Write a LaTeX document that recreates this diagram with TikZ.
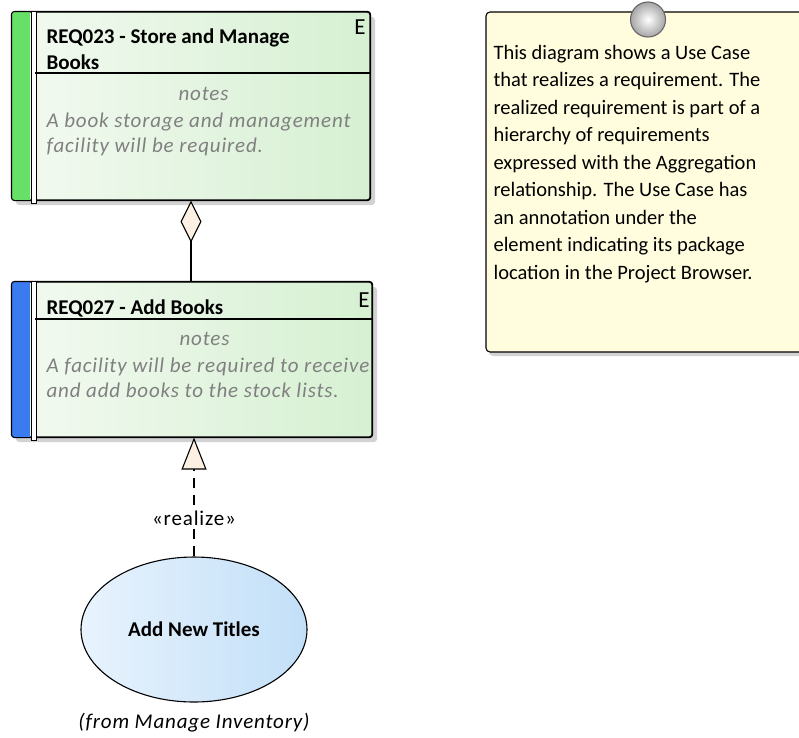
\documentclass[tikz,border=0pt]{standalone}
\usepackage{fontspec}
\setmainfont{Carlito}
\newfontfamily\spacedfont[LetterSpace=4]{Carlito}
\usepackage{tikz}
\usetikzlibrary{positioning,arrows.meta,shapes.geometric}

\definecolor{reqgreen}{RGB}{102,224,102}
\definecolor{reqblue}{RGB}{58,123,239}
\definecolor{reqlight}{RGB}{243,250,241}
\definecolor{reqdark}{RGB}{214,240,210}
\definecolor{notefill}{RGB}{255,253,222}
\definecolor{ucleft}{RGB}{232,243,253}
\definecolor{ucright}{RGB}{194,223,248}
\definecolor{tipfill}{RGB}{251,240,225}
\definecolor{notegrey}{RGB}{128,128,128}
\definecolor{shadowgrey}{RGB}{210,210,210}

\begin{document}
\begin{tikzpicture}[
  x=1pt, y=-1pt,
  line width=1.1pt,
  node distance=10pt,
  reqbox/.style={rectangle, draw, rounded corners=3pt, inner sep=0pt, left color=reqlight, right color=reqdark},
  reqtitle/.style={anchor=north west, align=left, inner sep=0pt, font=\fontsize{21}{26}\selectfont\bfseries},
  reqnotes/.style={anchor=north west, align=left, inner sep=0pt, text=notegrey, font=\spacedfont\fontsize{21}{25}\selectfont\itshape},
  notehead/.style={anchor=base, inner sep=0pt, text=notegrey, font=\spacedfont\fontsize{21}{25}\selectfont\itshape},
  etag/.style={inner sep=0pt, font=\fontsize{23}{23}\selectfont},
  notebox/.style={rectangle, draw, rounded corners=4pt, fill=notefill, inner sep=0pt},
  notetext/.style={anchor=north west, align=left, inner sep=0pt, font=\fontsize{20.5}{27.5}\selectfont},
  tack/.style={circle, draw=black!60, inner color=white, outer color=black!35, minimum size=35pt, inner sep=0pt},
  usecase/.style={ellipse, draw, left color=ucleft, right color=ucright, minimum width=226pt, minimum height=145pt, inner sep=0pt, font=\fontsize{21}{26}\selectfont\bfseries},
  fromlbl/.style={inner sep=0pt, font=\spacedfont\fontsize{21}{25}\selectfont\itshape},
  stereo/.style={fill=white, inner sep=2pt, font=\spacedfont\fontsize{21}{25}\selectfont},
  aggregation/.style={-{Diamond[length=42pt,width=21pt,fill=tipfill]}},
  realization/.style={dash pattern=on 10pt off 7pt, -{Triangle[length=32pt,width=25pt,fill=tipfill]}},
]
\useasboundingbox (0,0) rectangle (799,737);
\clip (0,0) rectangle (799,737);

% REQ023
\fill[shadowgrey, rounded corners=3pt] (16,17) rectangle (375,205);
\node[reqbox, minimum width=358pt, minimum height=188pt] (req23) at (191,106) {};
\begin{scope}
  \clip[rounded corners=3pt] (req23.north west) rectangle (req23.south east);
  \fill[reqgreen] (req23.north west) rectangle ([xshift=19pt]req23.south west);
\end{scope}
\draw[rounded corners=3pt] (req23.north west) rectangle (req23.south east);
\filldraw[fill=white, line width=0.9pt] ([xshift=19.5pt]req23.north west) rectangle ([xshift=25pt,yshift=-3pt]req23.south west);
\draw (35,73) -- (req23.east |- 0,73);
\node[reqtitle] (t23) at (46,28) {REQ023 - Store and Manage\\Books};
\node[etag] at (360,27) {E};
\node[notehead] (n23) at (203.5,100) {notes};
\node[reqnotes] (d23) at (46,112) {A book storage and management\\facility will be required.};

% REQ027
\fill[shadowgrey, rounded corners=3pt] (16,287) rectangle (377,442);
\node[reqbox, minimum width=360pt, minimum height=155pt] (req27) at (192,359.5) {};
\begin{scope}
  \clip[rounded corners=3pt] (req27.north west) rectangle (req27.south east);
  \fill[reqblue] (req27.north west) rectangle ([xshift=19pt]req27.south west);
\end{scope}
\draw[rounded corners=3pt] (req27.north west) rectangle (req27.south east);
\filldraw[fill=white, line width=0.9pt] ([xshift=19.5pt]req27.north west) rectangle ([xshift=25pt,yshift=-3pt]req27.south west);
\draw (35,319) -- (req27.east |- 0,319);
\node[reqtitle] (t27) at (46,299.5) {REQ027 - Add Books};
\node[etag] at (364,300) {E};
\node[notehead] (n27) at (204.5,345) {notes};
\node[reqnotes] (d27) at (46,357) {A facility will be required to receive\\and add books to the stock lists.};

% Note
\fill[shadowgrey, rounded corners=4pt] (489,16) rectangle (812,356);
\node[notebox, minimum width=322pt, minimum height=340pt] (note) at (647,182) {};
\node[tack] (tack) at (648,19.5) {};
\node[notetext] (notetxt) at (493,44.5) {This diagram shows a Use Case\\that realizes a requirement. The\\realized requirement is part of a\\hierarchy of requirements\\expressed with the Aggregation\\relationship. The Use Case has\\an annotation under the\\element indicating its package\\location in the Project Browser.};

% Use case
\node[usecase] (uc) at (194,629.5) {Add New Titles};
\node[fromlbl, below=of uc] (pkg) {(from Manage Inventory)};

% Connectors
\draw[aggregation] (req23.south |- req27.north) -- (req23.south);
\draw[realization] (uc.north) -- (uc.north |- req27.south) node[stereo, pos=0.325] (rlz) {«realize»};

\end{tikzpicture}
\end{document}
